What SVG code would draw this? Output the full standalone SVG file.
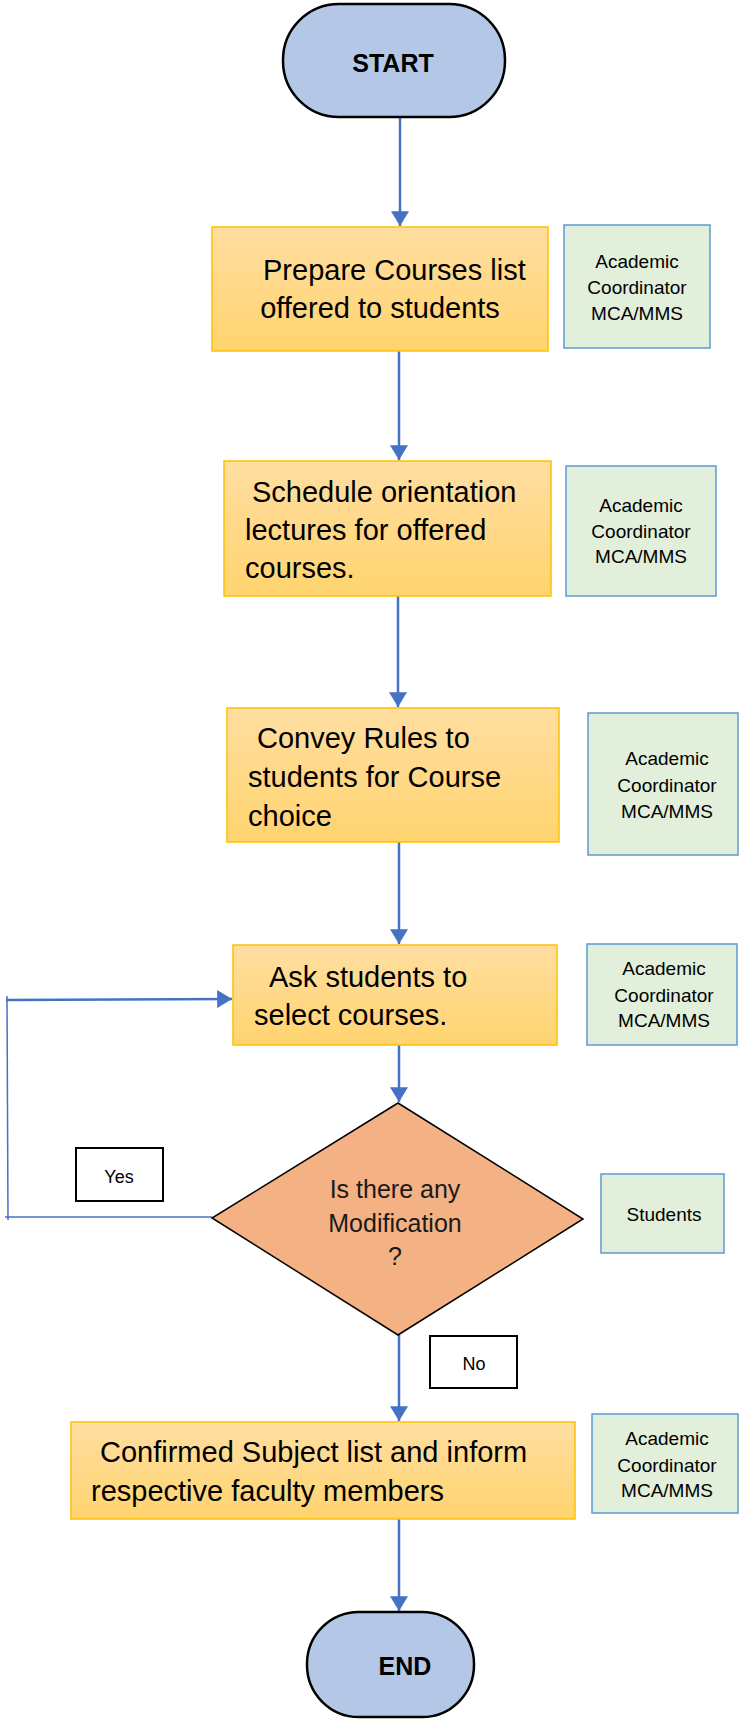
<svg xmlns="http://www.w3.org/2000/svg" width="739" height="1719" viewBox="0 0 739 1719">
<style>
.term{fill:#B4C7E7;stroke:#000;stroke-width:2.5}
.proc{fill:url(#gold);stroke:#FFC000;stroke-width:1.5}
.role{fill:#E2EFDA;stroke:#5B9BD5;stroke-width:1.5}
.lbl{fill:#fff;stroke:#000;stroke-width:2}
.dec{fill:#F4B183;stroke:#000;stroke-width:1.5}
text{font-family:"Liberation Sans",Arial,sans-serif;fill:#000}
.tt{font-size:25px;font-weight:bold;text-anchor:middle}
.pt{font-size:29px}
.rt{font-size:19px;text-anchor:middle}
.dt{font-size:25px;text-anchor:middle;fill:#1a1a1a}
.lt{font-size:18px;text-anchor:middle}
.con{fill:none;stroke:#4472C4;stroke-width:2.5}
.thin{fill:none;stroke:#4472C4;stroke-width:1.5}
</style>
<defs>
<linearGradient id="gold" x1="0" y1="0" x2="0" y2="1">
<stop offset="0" stop-color="#FFDEA1"/>
<stop offset="1" stop-color="#FFD46F"/>
</linearGradient>
<marker id="ah" markerUnits="userSpaceOnUse" markerWidth="18" markerHeight="18" viewBox="0 0 14 17" refX="14" refY="8.5" orient="auto">
<path d="M0,0 L14,8.5 L0,17 Z" fill="#4472C4"/>
</marker>
</defs>

<g id="connectors">
<line class="con" x1="400" y1="117" x2="400" y2="226" marker-end="url(#ah)"/>
<line class="con" x1="399" y1="351" x2="399" y2="460" marker-end="url(#ah)"/>
<line class="con" x1="398" y1="596" x2="398" y2="707" marker-end="url(#ah)"/>
<line class="con" x1="399" y1="842" x2="399" y2="944" marker-end="url(#ah)"/>
<line class="con" x1="399" y1="1045" x2="399" y2="1102" marker-end="url(#ah)"/>
<line class="con" x1="399" y1="1335" x2="399" y2="1421" marker-end="url(#ah)"/>
<line class="con" x1="399" y1="1519" x2="399" y2="1611" marker-end="url(#ah)"/>
<line class="thin" x1="212" y1="1217" x2="5" y2="1217"/>
<line class="thin" x1="8" y1="1220" x2="7" y2="996"/>
<line class="con" x1="6" y1="1000" x2="232" y2="999" marker-end="url(#ah)"/>
</g>

<g id="start">
<rect class="term" x="283" y="4" width="222" height="113" rx="56" ry="56"/>
<text class="tt" x="393" y="72">START</text>
</g>

<g id="prepare">
<rect class="proc" x="212" y="227" width="336" height="124"/>
<text class="pt" x="263" y="280">Prepare Courses list</text>
<text class="pt" x="380" y="318" text-anchor="middle">offered to students</text>
</g>
<g id="role1">
<rect class="role" x="564" y="225" width="146" height="123"/>
<text class="rt" x="637" y="268">Academic</text>
<text class="rt" x="637" y="294">Coordinator</text>
<text class="rt" x="637" y="320">MCA/MMS</text>
</g>

<g id="schedule">
<rect class="proc" x="224" y="461" width="327" height="135"/>
<text class="pt" x="252" y="502">Schedule orientation</text>
<text class="pt" x="245" y="540">lectures for offered</text>
<text class="pt" x="245" y="578">courses.</text>
</g>
<g id="role2">
<rect class="role" x="566" y="466" width="150" height="130"/>
<text class="rt" x="641" y="512">Academic</text>
<text class="rt" x="641" y="538">Coordinator</text>
<text class="rt" x="641" y="563">MCA/MMS</text>
</g>

<g id="convey">
<rect class="proc" x="227" y="708" width="332" height="134"/>
<text class="pt" x="257" y="748">Convey Rules to</text>
<text class="pt" x="248" y="787">students for Course</text>
<text class="pt" x="248" y="826">choice</text>
</g>
<g id="role3">
<rect class="role" x="588" y="713" width="150" height="142"/>
<text class="rt" x="667" y="765">Academic</text>
<text class="rt" x="667" y="792">Coordinator</text>
<text class="rt" x="667" y="818">MCA/MMS</text>
</g>

<g id="ask">
<rect class="proc" x="233" y="945" width="324" height="100"/>
<text class="pt" x="269" y="987">Ask students to</text>
<text class="pt" x="254" y="1025">select courses.</text>
</g>
<g id="role4">
<rect class="role" x="587" y="944" width="150" height="101"/>
<text class="rt" x="664" y="975">Academic</text>
<text class="rt" x="664" y="1002">Coordinator</text>
<text class="rt" x="664" y="1027">MCA/MMS</text>
</g>

<g id="decision">
<polygon class="dec" points="398,1103 583,1219 398,1335 212,1218"/>
<text class="dt" x="395" y="1198">Is there any</text>
<text class="dt" x="395" y="1232">Modification</text>
<text class="dt" x="395" y="1265">?</text>
</g>
<g id="role-students">
<rect class="role" x="601" y="1174" width="123" height="79"/>
<text class="rt" x="664" y="1221">Students</text>
</g>

<g id="yes">
<rect class="lbl" x="76" y="1148" width="87" height="53"/>
<text class="lt" x="119" y="1183">Yes</text>
</g>
<g id="no">
<rect class="lbl" x="430" y="1336" width="87" height="52"/>
<text class="lt" x="474" y="1370">No</text>
</g>

<g id="confirm">
<rect class="proc" x="71" y="1422" width="504" height="97"/>
<text class="pt" x="100" y="1462">Confirmed Subject list and inform</text>
<text class="pt" x="91" y="1501">respective faculty members</text>
</g>
<g id="role5">
<rect class="role" x="592" y="1414" width="146" height="99"/>
<text class="rt" x="667" y="1445">Academic</text>
<text class="rt" x="667" y="1472">Coordinator</text>
<text class="rt" x="667" y="1497">MCA/MMS</text>
</g>

<g id="end">
<rect class="term" x="307" y="1612" width="167" height="105" rx="52" ry="52"/>
<text class="tt" x="405" y="1675">END</text>
</g>
</svg>
